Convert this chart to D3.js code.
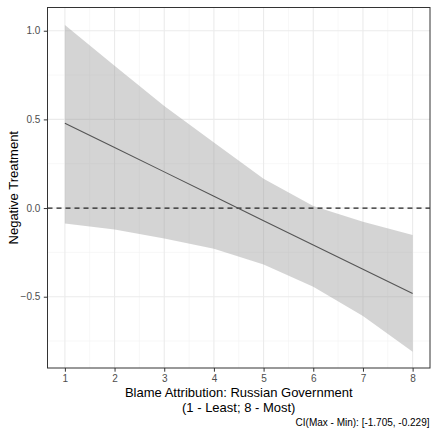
<!DOCTYPE html>
<html>
<head>
<meta charset="utf-8">
<style>
  body { margin: 0; background: #fff; }
  text { font-family: "Liberation Sans", Arial, sans-serif; }
</style>
</head>
<body>
<div id="chart-area"></div>
<script src="https://cdn.jsdelivr.net/npm/d3@7"></script>
<script>
    // values
    const blame = [1, 2, 3, 4, 5, 6, 7, 8];
    const effect = [0.478, 0.341, 0.204, 0.066, -0.071, -0.208, -0.345, -0.482];
    const upper = [1.032, 0.803, 0.575, 0.370, 0.165, 0.012, -0.077, -0.152];
    const lower = [-0.087, -0.121, -0.171, -0.230, -0.318, -0.444, -0.609, -0.810];
    const yTicks = [-0.5, 0, 0.5, 1.0];
    const yMinor = [-0.75, -0.25, 0.25, 0.75];
    const xMinor = [1.5, 2.5, 3.5, 4.5, 5.5, 6.5, 7.5];

    const width = 431;
    const height = 429;
    const margin = {top: 7.5, right: 1, bottom: 61, left: 47.5};

    const svg = d3.select("#chart-area")
        .append("svg")
            .attr("width", width)
            .attr("height", height);

    const x = d3.scaleLinear()
        .domain([0.65, 8.35])
        .range([margin.left, width - margin.right]);

    const y = d3.scaleLinear()
        .domain([-0.902, 1.131])
        .range([height - margin.bottom, margin.top]);

    const rows = blame.map((b, i) => ({b, e: effect[i], lo: lower[i], hi: upper[i]}));

    // grid
    const grid = svg.append("g");
    grid.selectAll(".ymin").data(yMinor).join("line")
        .attr("x1", x.range()[0]).attr("x2", x.range()[1])
        .attr("y1", d => y(d)).attr("y2", d => y(d))
        .attr("stroke", "#f2f2f2").attr("stroke-width", 0.6);
    grid.selectAll(".xmin").data(xMinor).join("line")
        .attr("y1", y.range()[0]).attr("y2", y.range()[1])
        .attr("x1", d => x(d)).attr("x2", d => x(d))
        .attr("stroke", "#f2f2f2").attr("stroke-width", 0.6);
    grid.selectAll(".ymaj").data(yTicks).join("line")
        .attr("x1", x.range()[0]).attr("x2", x.range()[1])
        .attr("y1", d => y(d)).attr("y2", d => y(d))
        .attr("stroke", "#ebebeb").attr("stroke-width", 1.1);
    grid.selectAll(".xmaj").data(blame).join("line")
        .attr("y1", y.range()[0]).attr("y2", y.range()[1])
        .attr("x1", d => x(d)).attr("x2", d => x(d))
        .attr("stroke", "#ebebeb").attr("stroke-width", 1.1);

    // ribbon
    const area = d3.area()
        .x(d => x(d.b))
        .y0(d => y(d.lo))
        .y1(d => y(d.hi));
    svg.append("path")
        .datum(rows)
        .attr("d", area)
        .attr("fill", "#999999")
        .attr("fill-opacity", 0.42);

    // zero reference
    svg.append("line")
        .attr("x1", x.range()[0]).attr("x2", x.range()[1])
        .attr("y1", y(0)).attr("y2", y(0))
        .attr("stroke", "#222")
        .attr("stroke-width", 1.3)
        .attr("stroke-dasharray", "5,4");

    // estimate
    const line = d3.line()
        .x(d => x(d.b))
        .y(d => y(d.e));
    svg.append("path")
        .datum(rows)
        .attr("d", line)
        .attr("fill", "none")
        .attr("stroke", "#555")
        .attr("stroke-width", 1.1);

    // panel border
    svg.append("rect")
        .attr("x", x.range()[0]).attr("y", y.range()[1])
        .attr("width", x.range()[1] - x.range()[0])
        .attr("height", y.range()[0] - y.range()[1])
        .attr("fill", "none")
        .attr("stroke", "#333")
        .attr("stroke-width", 1);

    // axes
    const xAxis = svg.append("g")
        .attr("transform", `translate(0, ${y.range()[0]})`)
        .call(d3.axisBottom(x).tickValues(blame).tickSize(3.7).tickPadding(3).tickFormat(d3.format("d")));
    const yAxis = svg.append("g")
        .attr("transform", `translate(${x.range()[0]}, 0)`)
        .call(d3.axisLeft(y).tickValues(yTicks).tickSize(3.7).tickPadding(3.5).tickFormat(d3.format(".1f")));

    [xAxis, yAxis].forEach(a => {
        a.select(".domain").remove();
        a.selectAll(".tick line").attr("stroke", "#333").attr("stroke-width", 1);
        a.selectAll(".tick text")
            .attr("fill", "#4d4d4d")
            .style("font-size", "10px")
            .style("font-family", "'Liberation Sans', Arial, sans-serif");
    });

    // titles
    const cx = (x.range()[0] + x.range()[1]) / 2;
    svg.append("text")
        .attr("x", cx).attr("y", 397)
        .attr("text-anchor", "middle")
        .style("font-size", "13px")
        .text("Blame Attribution: Russian Government");
    svg.append("text")
        .attr("x", cx).attr("y", 412)
        .attr("text-anchor", "middle")
        .style("font-size", "13px")
        .text("(1 - Least; 8 - Most)");
    svg.append("text")
        .attr("transform", `translate(18, ${(y.range()[0] + y.range()[1]) / 2}) rotate(-90)`)
        .attr("text-anchor", "middle")
        .style("font-size", "13px")
        .text("Negative Treatment");
    svg.append("text")
        .attr("x", width - 1.5).attr("y", 426)
        .attr("text-anchor", "end")
        .style("font-size", "10px")
        .text("CI(Max - Min): [-1.705, -0.229]");
</script>
</body>
</html>
